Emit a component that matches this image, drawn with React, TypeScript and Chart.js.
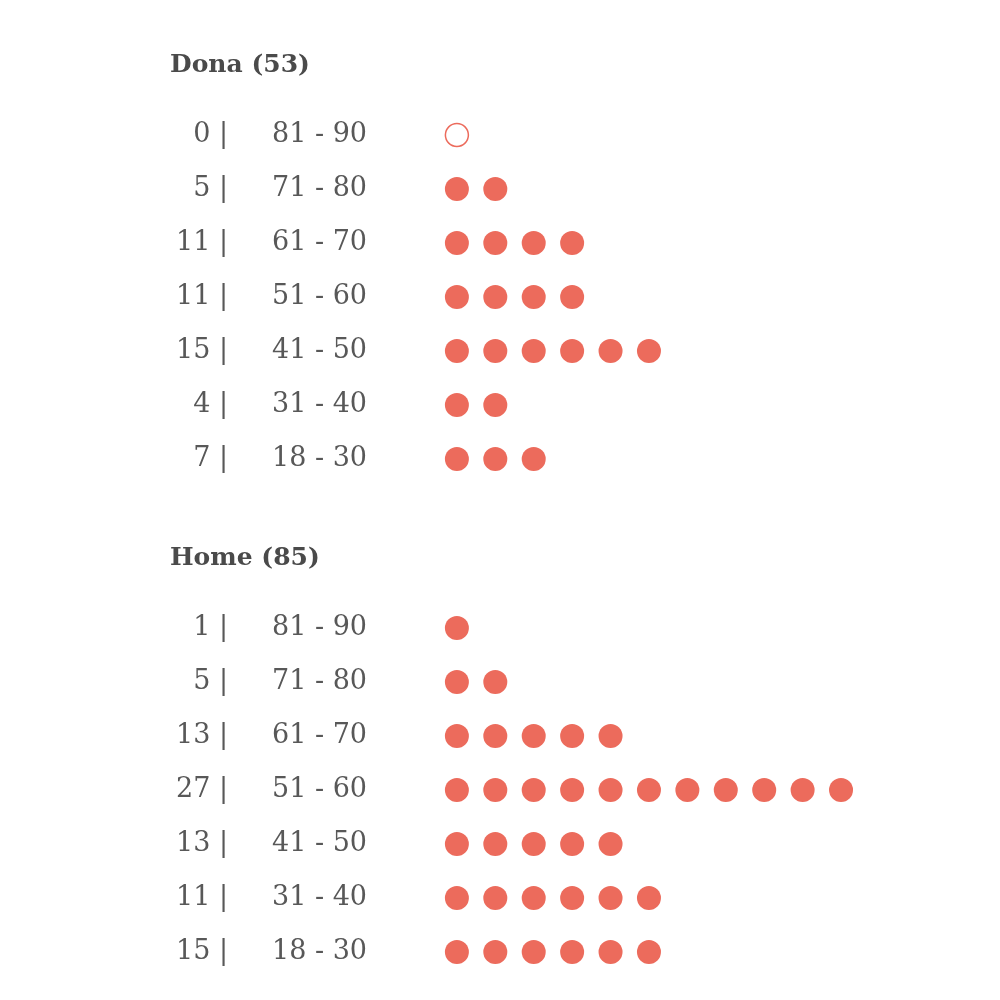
import React, { useEffect, useRef } from "react";
import { Chart, registerables } from "chart.js";

Chart.register(...registerables);

// ---- data ----
const groupNames = ["Dona", "Home"];
const ageBands = ["81 - 90", "71 - 80", "61 - 70", "51 - 60", "41 - 50", "31 - 40", "18 - 30"];
const donaCounts = [0, 5, 11, 11, 15, 4, 7];
const homeCounts = [1, 5, 13, 27, 13, 11, 15];
const donaDots = [0, 2, 4, 4, 6, 2, 3];
const homeDots = [1, 2, 5, 11, 5, 6, 6];

// ---- layout constants ----
const COLOR = "#EC6B5C";
const TEXT = "#585858";
const GROUP_GAP = 9.13;
const TITLE_OFFSET = 1.31;
const FONT = "'DejaVu Serif', serif";

const groupCounts = [donaCounts, homeCounts];
const groupDots = [donaDots, homeDots];

const rowValues: number[] = [];
const rowCountLabels: string[] = [];
const rowBandLabels: string[] = [];
groupCounts.forEach((counts, gi) => {
  counts.forEach((c, ri) => {
    rowValues.push(gi * GROUP_GAP + ri);
    rowCountLabels.push(`${c} |`);
    rowBandLabels.push(ageBands[ri]);
  });
});

const filled: { x: number; y: number }[] = [];
const hollow: { x: number; y: number }[] = [];
groupDots.forEach((dots, gi) => {
  dots.forEach((n, ri) => {
    const y = gi * GROUP_GAP + ri;
    if (n === 0) hollow.push({ x: 0, y });
    for (let i = 0; i < n; i++) filled.push({ x: i, y });
  });
});

const titlePlugin = {
  id: "groupTitles",
  afterDraw(chart: any) {
    const ctx = chart.ctx;
    const y = chart.scales.y;
    const left = chart.scales.yCount.left + 20;
    ctx.save();
    ctx.font = `bold 25px ${FONT}`;
    ctx.fillStyle = "#4a4a4a";
    ctx.textAlign = "left";
    ctx.textBaseline = "middle";
    groupNames.forEach((name, gi) => {
      const total = groupCounts[gi].reduce((a, b) => a + b, 0);
      ctx.fillText(`${name} (${total})`, left, y.getPixelForValue(gi * GROUP_GAP - TITLE_OFFSET) + 1);
    });
    ctx.restore();
  },
};

export default function App() {
  const ref = useRef<HTMLCanvasElement | null>(null);
  useEffect(() => {
    if (!ref.current) return;
    const yCommon = {
      type: "linear" as const,
      reverse: true,
      min: -2,
      max: 15.5,
    };
    const setTicks = (scale: any) => {
      scale.ticks = rowValues.map((v) => ({ value: v }));
    };
    const fitWidth = (w: number) => (s: any) => {
      s.width = w;
      s.paddingTop = 0;
      s.paddingBottom = 0;
    };
    const chart = new Chart(ref.current, {
      type: "scatter",
      data: {
        datasets: [
          {
            data: filled,
            backgroundColor: COLOR,
            borderWidth: 0,
            pointRadius: 12,
            pointHoverRadius: 12,
            xAxisID: "x",
            yAxisID: "y",
          },
          {
            data: hollow,
            backgroundColor: "#ffffff",
            borderColor: COLOR,
            borderWidth: 1.5,
            pointRadius: 11.5,
            pointHoverRadius: 11.5,
            xAxisID: "x",
            yAxisID: "y",
          },
        ],
      },
      options: {
        animation: false,
        responsive: false,
        clip: false as any,
        layout: { padding: { left: 150, right: 5, top: 27, bottom: 28 } },
        plugins: { legend: { display: false }, tooltip: { enabled: false } },
        scales: {
          x: { type: "linear", min: -0.7, max: 13.8, display: false },
          y: { ...yCommon, display: false },
          yCount: {
            ...yCommon,
            position: "left",
            weight: 2,
            grid: { display: false, drawTicks: false },
            border: { display: false },
            afterBuildTicks: setTicks,
            afterFit: fitWidth(122),
            ticks: {
              autoSkip: false,
              padding: 44,
              color: TEXT,
              font: { family: FONT, size: 27 },
              callback: (_v: any, i: number) => rowCountLabels[i],
            },
          },
          yRange: {
            ...yCommon,
            position: "left",
            weight: 1,
            grid: { display: false, drawTicks: false },
            border: { display: false },
            afterBuildTicks: setTicks,
            afterFit: fitWidth(158),
            ticks: {
              autoSkip: false,
              crossAlign: "far",
              color: TEXT,
              font: { family: FONT, size: 27 },
              callback: (_v: any, i: number) => rowBandLabels[i],
            },
          },
        } as any,
      },
      plugins: [titlePlugin],
    });
    return () => chart.destroy();
  }, []);
  return (
    <div style={{ position: "fixed", left: 0, top: 0, width: 1000, height: 1000, background: "#fff" }}>
      <canvas ref={ref} width={1000} height={1000} />
    </div>
  );
}
